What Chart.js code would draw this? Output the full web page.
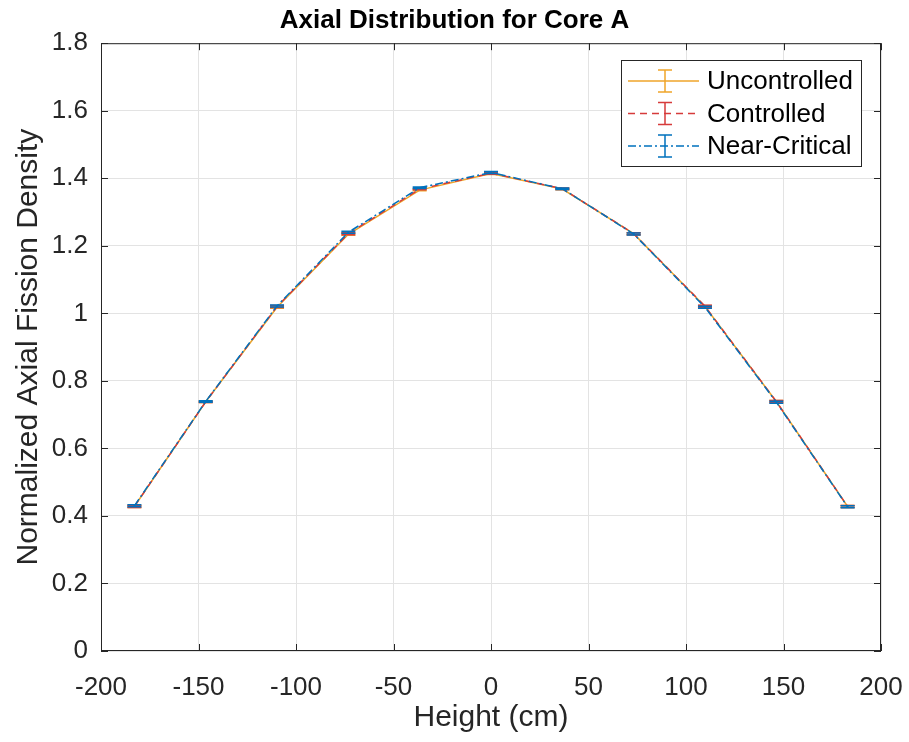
<!DOCTYPE html>
<html>
<head>
<meta charset="utf-8">
<script src="https://cdn.jsdelivr.net/npm/chart.js@4.4.0/dist/chart.umd.min.js"></script>
<style>
  html, body { margin: 0; padding: 0; background: #fff; }
  canvas { display: block; }
</style>
</head>
<body>
<canvas id="grafico" width="909" height="742"></canvas>
<script>
// alturas en cm (centro de cada nodo axial)
const alturas = [-182.88, -146.3, -109.73, -73.15, -36.58, 0, 36.58, 73.15, 109.73, 146.3, 182.88]

const noControlado = [0.428, 0.738, 1.018, 1.234, 1.365, 1.414, 1.368, 1.236, 1.020, 0.739, 0.428]
const controlado   = [0.428, 0.738, 1.020, 1.236, 1.368, 1.415, 1.369, 1.236, 1.021, 0.739, 0.428]
const casiCritico  = [0.430, 0.739, 1.022, 1.240, 1.372, 1.417, 1.369, 1.235, 1.018, 0.737, 0.427]

// incertezas (1 sigma)
const errNoControlado = [0.003, 0.002, 0.003, 0.003, 0.002, 0.003, 0.002, 0.003, 0.003, 0.003, 0.003]
const errControlado   = [0.003, 0.002, 0.003, 0.003, 0.002, 0.003, 0.002, 0.003, 0.003, 0.003, 0.003]
const errCasiCritico  = [0.003, 0.002, 0.003, 0.003, 0.002, 0.003, 0.002, 0.003, 0.003, 0.003, 0.003]

const etiquetas = ['Uncontrolled', 'Controlled', 'Near-Critical']
const ticksX = [-200, -150, -100, -50, 0, 50, 100, 150, 200]
const ticksY = [0, 0.2, 0.4, 0.6, 0.8, 1, 1.2, 1.4, 1.6, 1.8]

const colores = ['#EFA52A', '#D63B3B', '#0072BD']
const trazos = [[], [7, 5], [8, 3, 2, 3]]
const errores = [errNoControlado, errControlado, errCasiCritico]

const puntos = (ys) => alturas.map((x, i) => ({ x: x, y: ys[i] }))

const FUENTE = '"Liberation Sans", Arial, Helvetica, sans-serif'
const GRIS = '#262626'

// barras de error, se dibujan con cada serie
const barrasError = {
    id: 'barrasError',
    afterDatasetDraw(chart, args) {
        const ctx = chart.ctx
        const i = args.index
        const ds = chart.data.datasets[i]
        const xs = chart.scales.x, ys = chart.scales.y
        ctx.save()
        ctx.strokeStyle = ds.borderColor
        ctx.lineWidth = 1.5
        ds.data.forEach((p, k) => {
            const e = errores[i][k]
            const px = xs.getPixelForValue(p.x)
            const y1 = ys.getPixelForValue(p.y - e)
            const y2 = ys.getPixelForValue(p.y + e)
            ctx.beginPath()
            ctx.moveTo(px, y1); ctx.lineTo(px, y2)
            ctx.moveTo(px - 7, y1); ctx.lineTo(px + 7, y1)
            ctx.moveTo(px - 7, y2); ctx.lineTo(px + 7, y2)
            ctx.stroke()
        })
        ctx.restore()
    }
}

// caja estilo matlab con ticks hacia adentro + leyenda
const caja = {
    id: 'caja',
    afterDraw(chart) {
        const ctx = chart.ctx
        const a = chart.chartArea
        const xs = chart.scales.x, ys = chart.scales.y
        ctx.save()
        ctx.strokeStyle = GRIS
        ctx.lineWidth = 1
        ctx.strokeRect(a.left + 0.5, a.top + 0.5, a.right - a.left - 1, a.bottom - a.top - 1)
        ctx.beginPath()
        ticksX.forEach(v => {
            const px = Math.round(xs.getPixelForValue(v)) + 0.5
            ctx.moveTo(px, a.bottom); ctx.lineTo(px, a.bottom - 7)
            ctx.moveTo(px, a.top); ctx.lineTo(px, a.top + 7)
        })
        ticksY.forEach(v => {
            const py = Math.round(ys.getPixelForValue(v)) + 0.5
            ctx.moveTo(a.left, py); ctx.lineTo(a.left + 7, py)
            ctx.moveTo(a.right, py); ctx.lineTo(a.right - 7, py)
        })
        ctx.stroke()

        // leyenda
        const L = 621, T = 60, W = 240, H = 106
        ctx.fillStyle = '#fff'
        ctx.fillRect(L, T, W, H)
        ctx.strokeStyle = GRIS
        ctx.strokeRect(L + 0.5, T + 0.5, W, H)
        ctx.font = '26px ' + FUENTE
        ctx.textBaseline = 'middle'
        chart.data.datasets.forEach((ds, i) => {
            const cy = T + 21 + i * 32.5
            ctx.strokeStyle = ds.borderColor
            ctx.lineWidth = 1.5
            ctx.setLineDash(trazos[i])
            ctx.beginPath()
            ctx.moveTo(628, cy); ctx.lineTo(699, cy)
            ctx.stroke()
            ctx.setLineDash([])
            ctx.beginPath()
            ctx.moveTo(665, cy - 11); ctx.lineTo(665, cy + 11)
            ctx.moveTo(658, cy - 11); ctx.lineTo(672, cy - 11)
            ctx.moveTo(658, cy + 11); ctx.lineTo(672, cy + 11)
            ctx.stroke()
            ctx.fillStyle = '#000'
            ctx.fillText(ds.label, 707, cy + 1)
        })
        ctx.restore()
    }
}

const serie = (label, ys, i, orden) => ({
    label: label,
    data: puntos(ys),
    borderColor: colores[i],
    backgroundColor: colores[i],
    borderWidth: 1.5,
    borderDash: trazos[i],
    pointRadius: 0,
    tension: 0,
    order: orden
})

const grafico = new Chart(document.getElementById('grafico'), {
    type: 'line',
    data: {
        datasets: [
            serie(etiquetas[0], noControlado, 0, 3),
            serie(etiquetas[1], controlado, 1, 2),
            serie(etiquetas[2], casiCritico, 2, 1)
        ]
    },
    options: {
        responsive: false,
        animation: false,
        layout: { padding: 0 },
        plugins: {
            legend: { display: false },
            tooltip: { enabled: false },
            title: {
                display: true,
                text: 'Axial Distribution for Core A',
                color: '#000',
                font: { family: FUENTE, size: 26, weight: 'bold' },
                padding: { top: 5, bottom: 7 }
            }
        },
        scales: {
            x: {
                type: 'linear',
                min: -200, max: 200,
                afterBuildTicks: s => { s.ticks = ticksX.map(v => ({ value: v })) },
                afterFit: s => { s.height = 91; s.paddingLeft = 0; s.paddingRight = 28 },
                grid: { color: '#E3E3E3', drawTicks: false },
                border: { display: false },
                ticks: {
                    color: GRIS, padding: 21, maxRotation: 0,
                    font: { family: FUENTE, size: 26 },
                    callback: v => String(v)
                },
                title: {
                    display: true, text: 'Height (cm)', color: GRIS,
                    font: { family: FUENTE, size: 30 },
                    padding: { top: 0, bottom: 6 }
                }
            },
            y: {
                min: 0, max: 1.8,
                afterBuildTicks: s => { s.ticks = ticksY.map(v => ({ value: v })) },
                afterFit: s => { s.width = 101; s.paddingTop = 0; s.paddingBottom = 0 },
                grid: { color: '#E3E3E3', drawTicks: false },
                border: { display: false },
                ticks: {
                    color: GRIS, padding: 13,
                    font: { family: FUENTE, size: 26 },
                    callback: v => String(+v.toFixed(1))
                },
                title: {
                    display: true, text: 'Normalized Axial Fission Density', color: GRIS,
                    font: { family: FUENTE, size: 30 },
                    padding: { top: 11, bottom: 0 }
                }
            }
        }
    },
    plugins: [barrasError, caja]
})
</script>
</body>
</html>
